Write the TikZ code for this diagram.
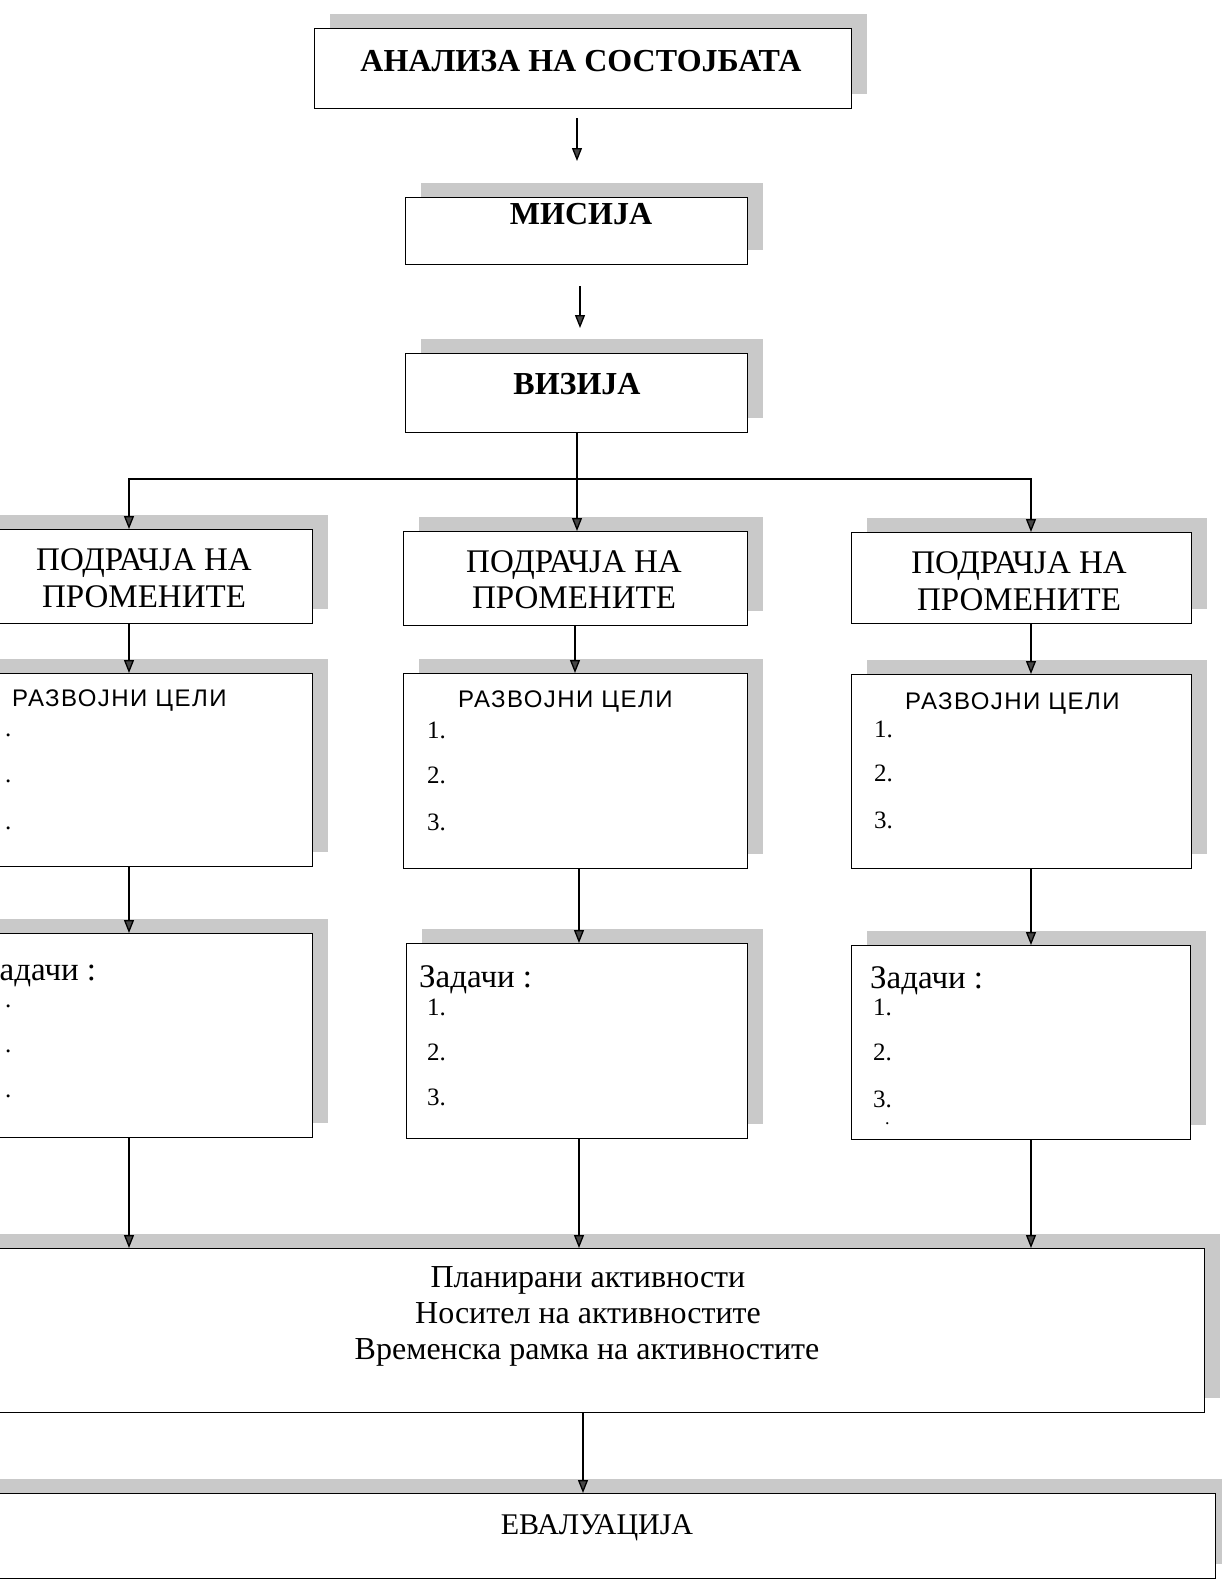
\documentclass[tikz,border=0pt]{standalone}
\usepackage{fontspec}
\setmainfont{Liberation Serif}
\newfontfamily\sansf[LetterSpace=6]{Liberation Sans}
\usetikzlibrary{arrows.meta,shadows}
\tikzset{
  box/.style={draw=black, line width=1.4pt, fill=white, anchor=north west, inner sep=0pt,
    drop shadow={shadow xshift=15pt, shadow yshift=15pt, fill=gray!42, opacity=1}},
  conn/.style={line width=1.3pt, -{Triangle[length=13pt,width=10pt,fill=gray!55!black]}},
  plain/.style={line width=1.3pt},
  tb/.style={anchor=base, inner sep=0pt, font=\fontsize{32}{32}\selectfont\bfseries},
  tr/.style={anchor=base, inner sep=0pt, font=\fontsize{33}{33}\selectfont},
  tl/.style={anchor=base west, inner sep=0pt, font=\fontsize{33}{33}\selectfont},
  tn/.style={anchor=base west, inner sep=0pt, font=\fontsize{25}{25}\selectfont},
  ts/.style={anchor=base west, inner sep=0pt, font=\fontsize{24}{24}\selectfont\sansf},
}
\begin{document}
\begin{tikzpicture}[x=1pt,y=-1pt]
\useasboundingbox (0,0) rectangle (1222,1582);
\clip (0,0) rectangle (1222,1582);
\fill[white] (0,0) rectangle (1222,1582);
% boxes
\node[box, minimum width=537pt, minimum height=80pt] (ana) at (314,28) {};
\node[box, minimum width=342pt, minimum height=67pt] (mis) at (405,197) {};
\node[box, minimum width=342pt, minimum height=79pt] (viz) at (405,353) {};
\node[box, minimum width=340pt, minimum height=94pt] (p1) at (-28,529) {};
\node[box, minimum width=344pt, minimum height=94pt] (p2) at (403,531) {};
\node[box, minimum width=340pt, minimum height=91pt] (p3) at (851,532) {};
\node[box, minimum width=340pt, minimum height=193pt] (r1) at (-28,673) {};
\node[box, minimum width=344pt, minimum height=195pt] (r2) at (403,673) {};
\node[box, minimum width=340pt, minimum height=194pt] (r3) at (851,674) {};
\node[box, minimum width=340pt, minimum height=204pt] (z1) at (-28,933) {};
\node[box, minimum width=341pt, minimum height=195pt] (z2) at (406,943) {};
\node[box, minimum width=339pt, minimum height=194pt] (z3) at (851,945) {};
\node[box, minimum width=1234pt, minimum height=164pt] (plan) at (-30,1248) {};
\node[box, minimum width=1245pt, minimum height=85pt] (ev) at (-30,1493) {};
% column coordinates
\coordinate (a1s) at (577,118);
\coordinate (a1e) at (577,161);
\coordinate (a2s) at (580,286);
\coordinate (a2e) at (580,328);
\coordinate (jn) at (577,479);
\coordinate (cL) at (129,0);
\coordinate (cR) at (1031,0);
\coordinate (mB) at (575,0);
\coordinate (mC) at (579,0);
\coordinate (mD) at (583,0);
% connectors
\draw[conn] (a1s) -- (a1e);
\draw[conn] (a2s) -- (a2e);
\draw[plain] (viz.south -| jn) -- (jn);
\draw[conn] (jn) -| (p1.north -| cL);
\draw[conn] (jn) -- (p2.north -| jn);
\draw[conn] (jn) -| (p3.north -| cR);
\draw[conn] (p1.south -| cL) -- (r1.north -| cL);
\draw[conn] (p2.south -| mB) -- (r2.north -| mB);
\draw[conn] (p3.south -| cR) -- (r3.north -| cR);
\draw[conn] (r1.south -| cL) -- (z1.north -| cL);
\draw[conn] (r2.south -| mC) -- (z2.north -| mC);
\draw[conn] (r3.south -| cR) -- (z3.north -| cR);
\draw[conn] (z1.south -| cL) -- (plan.north -| cL);
\draw[conn] (z2.south -| mC) -- (plan.north -| mC);
\draw[conn] (z3.south -| cR) -- (plan.north -| cR);
\draw[conn] (plan.south -| mD) -- (ev.north -| mD);
% texts
\node[tb] (tana) at (581,71) {АНАЛИЗА НА СОСТОЈБАТА};
\node[tb] (tmis) at (581,224) {МИСИЈА};
\node[tb] (tviz) at (577,394) {ВИЗИЈА};
\node[tr] (tp1a) at (144,570) {ПОДРАЧЈА НА};
\node[tr] (tp1b) at (144,607) {ПРОМЕНИТЕ};
\node[tr] (tp2a) at (574,572) {ПОДРАЧЈА НА};
\node[tr] (tp2b) at (574,608) {ПРОМЕНИТЕ};
\node[tr] (tp3a) at (1019,573) {ПОДРАЧЈА НА};
\node[tr] (tp3b) at (1019,610) {ПРОМЕНИТЕ};
% razvojni celi
\node[ts] (tr1) at (12,706) {РАЗВОЈНИ ЦЕЛИ};
\node[ts] (tr2) at (458,707) {РАЗВОЈНИ ЦЕЛИ};
\node[ts] (tr3) at (905,709) {РАЗВОЈНИ ЦЕЛИ};
\node[tn] (n11) at (5,736) {.};
\node[tn] (n12) at (5,782) {.};
\node[tn] (n13) at (5,829) {.};
\node[tn] (n21) at (427,738) {1.};
\node[tn] (n22) at (427,783) {2.};
\node[tn] (n23) at (427,830) {3.};
\node[tn] (n31) at (874,737) {1.};
\node[tn] (n32) at (874,781) {2.};
\node[tn] (n33) at (874,828) {3.};
% zadachi
\node[tl] (tz1) at (-17,980) {Задачи :};
\node[tl] (tz2) at (419,987) {Задачи :};
\node[tl] (tz3) at (870,988) {Задачи :};
\node[tn] (m11) at (5,1007) {.};
\node[tn] (m12) at (5,1052) {.};
\node[tn] (m13) at (5,1097) {.};
\node[tn] (m21) at (427,1015) {1.};
\node[tn] (m22) at (427,1060) {2.};
\node[tn] (m23) at (427,1105) {3.};
\node[tn] (m31) at (873,1015) {1.};
\node[tn] (m32) at (873,1060) {2.};
\node[tn] (m33) at (873,1107) {3.};
\node[tn, font=\fontsize{18}{18}\selectfont] (mdot) at (885,1124) {.};
% plan
\node[tr, font=\fontsize{32}{32}\selectfont] (tpl1) at (588,1287) {Планирани активности};
\node[tr, font=\fontsize{32}{32}\selectfont] (tpl2) at (588,1323) {Носител на активностите};
\node[tr, font=\fontsize{32}{32}\selectfont] (tpl3) at (587,1359) {Временска рамка на активностите};
\node[tr, font=\fontsize{30}{30}\selectfont] (tev) at (597,1534) {ЕВАЛУАЦИЈА};
\end{tikzpicture}
\end{document}
